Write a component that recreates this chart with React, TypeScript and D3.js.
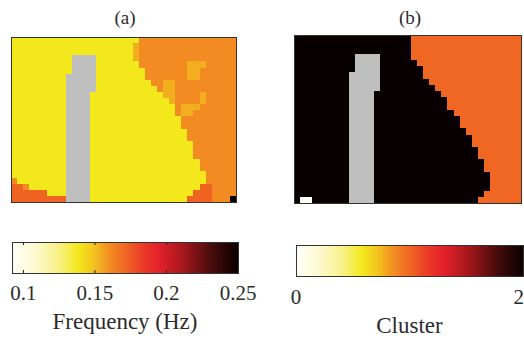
import * as d3 from "d3";

// ── Colormap (reversed "hot"-like: white → yellow → orange → red → black) ──
const CMAP_POS = [0, 0.1, 0.2, 0.29, 0.36, 0.43, 0.5, 0.58, 0.65, 0.75, 0.88, 1];
const CMAP_COL = [
  "#fffff8", "#fdf9d0", "#f8f08a", "#f3e91c", "#f4c21f", "#f28c22",
  "#f06623", "#ea3a27", "#e4202a", "#a8181c", "#4a0c0c", "#080000",
];

// ── (a) Frequency map: cell codes → Hz, rows run-length encoded ──
const FREQ_DOMAIN = [0.092, 0.25];
const FREQ_TICKS = [0.1, 0.15, 0.2, 0.25];
const FREQ_CODES: Record<string, number> = { y: 0.138, l: 0.153, o: 0.16, r: 0.172, k: 0.25, g: NaN };
const FREQ_ROWS = [
  "y21 o16",
  "y20 l1 o16",
  "y20 l1 o16",
  "y10 g4 y6 l1 o16",
  "y10 g4 y7 o8 l3 o5",
  "y10 g4 y8 o7 l2 o6",
  "y9 g5 y8 o7 l2 o6",
  "y9 g5 y9 o2 l2 o10",
  "y9 g5 y10 o1 l2 o10",
  "y9 g4 y12 l2 o4 l1 o5",
  "y9 g4 y13 l1 o4 l1 o5",
  "y9 g4 y14 o1 l3 o6",
  "y9 g4 y14 o1 l2 o7",
  "y9 g4 y15 o9",
  "y9 g4 y15 o9",
  "y9 g4 y16 o8",
  "y9 g4 y16 o8",
  "y9 g4 y17 o7",
  "y9 g4 y17 o7",
  "y9 g4 y17 o7",
  "y9 g4 y18 o6",
  "y9 g4 y18 o6",
  "y9 g4 y19 o5",
  "o1 y8 g4 y19 o5",
  "r2 o1 y6 g4 y18 r2 o4",
  "r6 y3 g4 y17 r3 o4",
  "r9 g4 y16 r4 o3 k1",
];

// ── (b) Cluster map ──
const CLUSTER_DOMAIN = [0, 2];
const CLUSTER_TICKS = [0, 2];
const CLUSTER_CODES: Record<string, number> = { w: 0, o: 1, k: 2, g: NaN };
const CLUSTER_ROWS = [
  "k19 o18",
  "k19 o18",
  "k19 o18",
  "k10 g4 k5 o18",
  "k10 g4 k6 o17",
  "k10 g4 k7 o16",
  "k9 g5 k7 o16",
  "k9 g5 k8 o15",
  "k9 g5 k9 o14",
  "k9 g4 k11 o13",
  "k9 g4 k12 o12",
  "k9 g4 k12 o12",
  "k9 g4 k13 o11",
  "k9 g4 k14 o10",
  "k9 g4 k14 o10",
  "k9 g4 k15 o9",
  "k9 g4 k16 o8",
  "k9 g4 k16 o8",
  "k9 g4 k17 o7",
  "k9 g4 k17 o7",
  "k9 g4 k18 o6",
  "k9 g4 k18 o6",
  "k9 g4 k19 o5",
  "k9 g4 k19 o5",
  "k9 g4 k19 o5",
  "k9 g4 k18 o6",
  "k1 w2 k6 g4 k17 o7",
];

const FONT = "Liberation Serif, Times New Roman, DejaVu Serif, serif";
const TEXT = "#2b2b2b";
const NAN_COLOR = "#bfbfbf";

const cmap = d3
  .scaleLinear<string>()
  .domain(CMAP_POS)
  .range(CMAP_COL)
  .interpolate(d3.interpolateRgb)
  .clamp(true);

// expand "y21 o16" → array of codes
function decode(rows: string[]) {
  return rows.map((r) =>
    r.split(" ").flatMap((tok) => Array(parseInt(tok.slice(1), 10)).fill(tok[0]))
  );
}

function Heatmap({ x0, y0, w, h, rows, codes, domain }: any) {
  const grid: string[][] = decode(rows);
  const nRows = grid.length;
  const nCols = d3.max(grid, (r) => r.length) ?? 1;
  const x = d3.scaleLinear().domain([0, nCols]).range([x0, x0 + w]);
  const y = d3.scaleLinear().domain([0, nRows]).range([y0, y0 + h]);
  const frac = d3.scaleLinear().domain(domain).range([0, 1]);
  return (
    <g shapeRendering="crispEdges">
      {grid.map((row, ri) =>
        row.map((c, ci) => {
          const v = codes[c];
          const xa = Math.round(x(ci));
          const ya = Math.round(y(ri));
          return (
            <rect
              key={`${ri}-${ci}`}
              x={xa}
              y={ya}
              width={Math.round(x(ci + 1)) - xa}
              height={Math.round(y(ri + 1)) - ya}
              fill={Number.isNaN(v) ? NAN_COLOR : cmap(frac(v))}
            />
          );
        })
      )}
      <rect x={x0 + 0.5} y={y0 + 0.5} width={w} height={h} fill="none" stroke="#333" strokeWidth={1} />
    </g>
  );
}

function Colorbar({ id, x0, y0, w, h, domain, ticks, fmt, label, labelY, tickY, tickMarks }: any) {
  const sx = d3.scaleLinear().domain(domain).range([x0, x0 + w]);
  const stops = d3.range(0, 1.0001, 0.02);
  return (
    <g>
      <defs>
        <linearGradient id={id} x1="0" x2="1" y1="0" y2="0">
          {stops.map((t) => (
            <stop key={t} offset={t} stopColor={cmap(t)} />
          ))}
        </linearGradient>
      </defs>
      <rect x={x0 + 0.5} y={y0 + 0.5} width={w} height={h} fill={`url(#${id})`} stroke="#333" strokeWidth={1} />
      {tickMarks &&
        ticks.map((t: number) => (
          <g key={`m${t}`}>
            <line x1={sx(t)} x2={sx(t)} y1={y0} y2={y0 + 3} stroke="#222" strokeWidth={1} />
            <line x1={sx(t)} x2={sx(t)} y1={y0 + h} y2={y0 + h - 3} stroke="#222" strokeWidth={1} />
          </g>
        ))}
      {ticks.map((t: number, i: number) => {
        const last = i === ticks.length - 1 && sx(t) > 515;
        return (
          <text
            key={t}
            x={last ? 524 : sx(t)}
            y={tickY}
            textAnchor={last ? "end" : "middle"}
            style={{ fontFamily: FONT }}
            fontSize={21}
            fill={TEXT}
          >
            {fmt(t)}
          </text>
        );
      })}
      <text
        x={x0 + w / 2}
        y={labelY}
        textAnchor="middle"
        style={{ fontFamily: FONT }}
        fontSize={23}
        fill={TEXT}
      >
        {label}
      </text>
    </g>
  );
}

export default function App() {
  return (
    <svg
      width={524}
      height={339}
      style={{ position: "absolute", left: 0, top: 0, background: "#fff" }}
    >
      <text x={125} y={24} textAnchor="middle" style={{ fontFamily: FONT }} fontSize={19} fill={TEXT}>
        (a)
      </text>
      <text x={410} y={24} textAnchor="middle" style={{ fontFamily: FONT }} fontSize={19} fill={TEXT}>
        (b)
      </text>

      <Heatmap x0={11} y0={37} w={225} h={165} rows={FREQ_ROWS} codes={FREQ_CODES} domain={FREQ_DOMAIN} />
      <Heatmap x0={294} y0={35} w={227} h={168} rows={CLUSTER_ROWS} codes={CLUSTER_CODES} domain={CLUSTER_DOMAIN} />

      <Colorbar
        id="cb-freq"
        x0={12}
        y0={242}
        w={226}
        h={31}
        domain={FREQ_DOMAIN}
        ticks={FREQ_TICKS}
        fmt={(t: number) => String(t)}
        label="Frequency (Hz)"
        tickY={300}
        labelY={329}
        tickMarks
      />
      <Colorbar
        id="cb-cluster"
        x0={296}
        y0={245}
        w={227}
        h={31}
        domain={CLUSTER_DOMAIN}
        ticks={CLUSTER_TICKS}
        fmt={(t: number) => String(t)}
        label="Cluster"
        tickY={304}
        labelY={333}
        tickMarks={false}
      />
    </svg>
  );
}
